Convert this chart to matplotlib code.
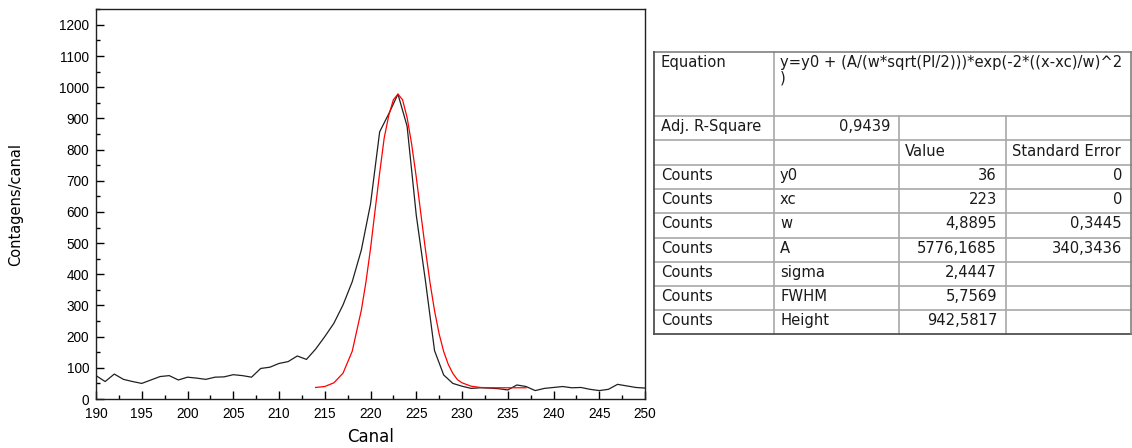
import matplotlib
matplotlib.use("Agg")
import matplotlib.pyplot as plt
from matplotlib.ticker import MultipleLocator

plt.rcParams['font.family'] = ['Liberation Sans', 'DejaVu Sans']

# ---- data ----
canal = list(range(190, 251))
contagens = [75, 56, 80, 63, 56, 50, 61, 72, 75, 61,
             70, 67, 63, 70, 71, 78, 75, 70, 98, 102,
             114, 120, 138, 127, 160, 200, 243, 302, 376, 478,
             625, 857, 915, 978, 875, 590, 380, 155, 77, 50,
             41, 34, 36, 35, 33, 29, 45, 40, 27, 34,
             37, 40, 36, 37, 31, 27, 31, 47, 42, 37, 35]

fit_x = [214, 215, 216, 217, 218, 219, 219.5, 220, 220.5, 221, 221.5, 222, 222.5,
         223, 223.5, 224, 224.5, 225, 225.5, 226, 226.5, 227, 227.5, 228, 228.5,
         229, 229.5, 230, 231, 232, 233, 234, 235, 236, 237]
fit_y = [37, 40, 52, 83, 153, 285, 375, 482, 605, 725, 838, 910, 960,
         978, 960, 903, 817, 712, 595, 480, 374, 283, 209, 152, 111,
         82, 62, 52, 41, 37, 36, 36, 36, 36, 36]

x_ticks = list(range(190, 251, 5))
y_ticks = list(range(0, 1201, 100))

# table content
eq_label = "Equation"
eq_text = "y=y0 + (A/(w*sqrt(PI/2)))*exp(-2*((x-xc)/w)^2\n)"
r2_label = "Adj. R-Square"
r2_value = "0,9439"
col_headers = ["", "", "Value", "Standard Error"]
row_group = ["Counts"] * 7
param_names = ["y0", "xc", "w", "A", "sigma", "FWHM", "Height"]
param_values = ["36", "223", "4,8895", "5776,1685", "2,4447", "5,7569", "942,5817"]
param_errors = ["0", "0", "0,3445", "340,3436", "", "", ""]

# ---- figure ----
W, H = 1132, 448
fig = plt.figure(figsize=(W / 100, H / 100), dpi=100)

def px_axes(l, t, r, b):
    return [l / W, 1 - b / H, (r - l) / W, (b - t) / H]

ax = fig.add_axes(px_axes(96, 9, 645, 399))
ax.plot(canal, contagens, color='#202020', lw=0.9)
ax.plot(fit_x, fit_y, color='#ff0000', lw=0.9)
ax.set_xlim(190, 250)
ax.set_ylim(0, 1251)
ax.set_xticks(x_ticks)
ax.set_yticks(y_ticks)
ax.xaxis.set_minor_locator(MultipleLocator(2.5))
ax.yaxis.set_minor_locator(MultipleLocator(50))
ax.tick_params(which='both', direction='in', top=False, right=False,
               labelsize=9.8, colors='#000000', width=1)
ax.tick_params(which='major', length=5.5)
ax.tick_params(axis='x', which='major', pad=6)
ax.tick_params(axis='y', which='major', pad=5)
ax.tick_params(which='minor', length=3)
for s in ax.spines.values():
    s.set_linewidth(1.0)
    s.set_color('#202020')
ax.set_xlabel("Canal", fontsize=12, family=['DejaVu Sans'])
ax.set_ylabel("Contagens/canal", fontsize=10.5, family=['DejaVu Sans'])
ax.xaxis.set_label_coords(0.5, -0.074)
ax.yaxis.set_label_coords(-0.133, 0.5)

# ---- table drawn in pixel coordinates ----
tax = fig.add_axes([0, 0, 1, 1])
tax.set_xlim(0, W)
tax.set_ylim(H, 0)
tax.axis('off')

cols = [654, 774, 899, 1006, 1131]
rows = [52, 116, 140, 165, 189, 213, 238, 262, 286, 310, 334]
inner = '#a8a8a8'
outer = '#505050'
lw_in = 1.2

for y in rows[1:-1]:
    tax.plot([cols[0], cols[-1]], [y, y], color=inner, lw=lw_in)
tax.plot([cols[1], cols[1]], [rows[0], rows[-1]], color=inner, lw=lw_in)
for c in cols[2:4]:
    tax.plot([c, c], [rows[1], rows[-1]], color=inner, lw=lw_in)
tax.plot([cols[0], cols[-1]], [rows[0], rows[0]], color='#808080', lw=1.2)
tax.plot([cols[0], cols[0]], [rows[0], rows[-1]], color=outer, lw=1.3)
tax.plot([cols[0], cols[-1]], [rows[-1], rows[-1]], color=outer, lw=1.3)
tax.plot([cols[-1], cols[-1]], [rows[0], rows[-1]], color='#808080', lw=1.2)

fs = 10.6
tfam = ['DejaVu Sans']
tc = '#1a1a1a'

def cell_text(col, row, s, align='left', pad=6):
    ymid = (rows[row] + rows[row + 1]) / 2 - 1.5
    if align == 'left':
        tax.text(cols[col] + pad, ymid, s, ha='left', va='center', fontsize=fs,
                 color=tc, family=tfam)
    else:
        tax.text(cols[col + 1] - pad, ymid, s, ha='right', va='center', fontsize=fs,
                 color=tc, family=tfam)

tax.text(cols[0] + 7, rows[0] + 3, eq_label, ha='left', va='top', fontsize=fs,
         color=tc, family=tfam)
tax.text(cols[1] + 6, rows[0] + 3, eq_text, ha='left', va='top', fontsize=fs,
         color=tc, family=tfam, linespacing=1.05)
cell_text(0, 1, r2_label, pad=7)
cell_text(1, 1, r2_value, align='right', pad=9)
cell_text(2, 2, col_headers[2])
cell_text(3, 2, col_headers[3])
for i in range(len(param_names)):
    r = 3 + i
    cell_text(0, r, row_group[i], pad=7)
    cell_text(1, r, param_names[i])
    cell_text(2, r, param_values[i], align='right', pad=9)
    if param_errors[i]:
        cell_text(3, r, param_errors[i], align='right', pad=9)

fig.savefig("out.png", dpi=100)
